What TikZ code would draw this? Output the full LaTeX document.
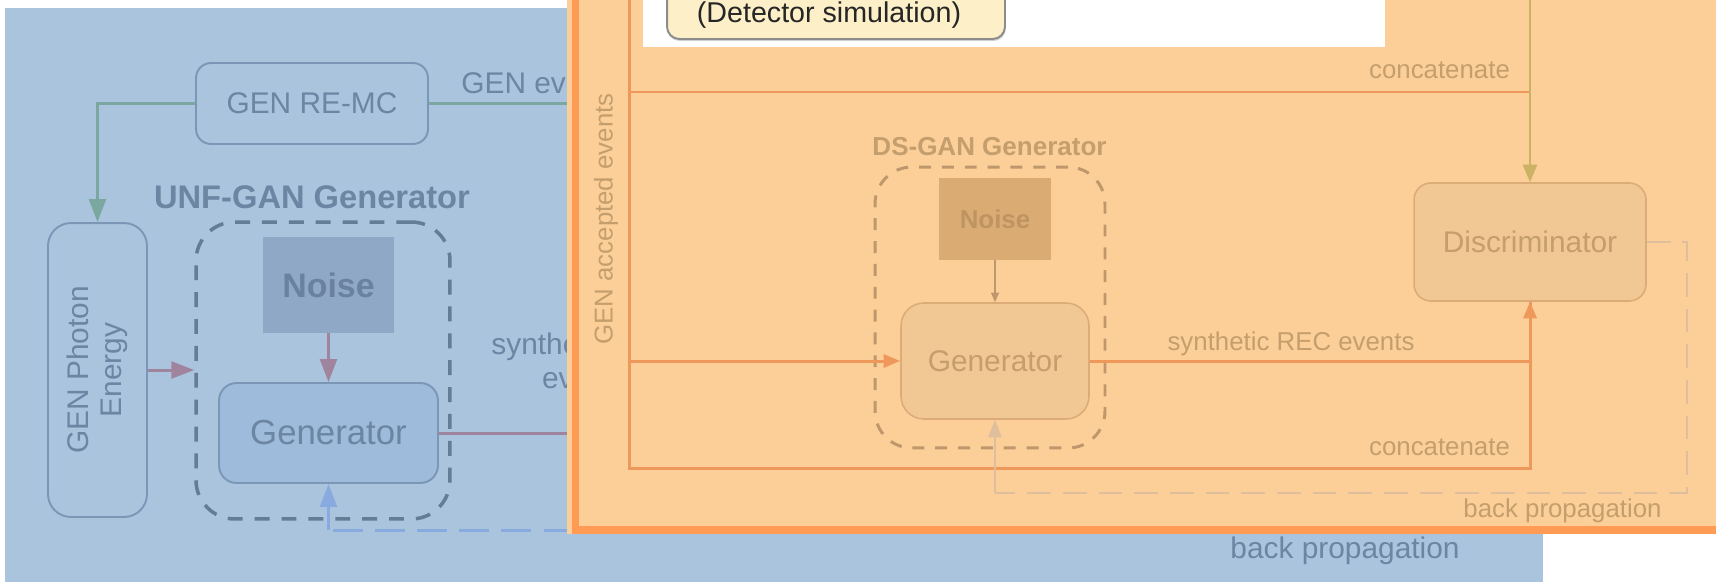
\documentclass[tikz,border=0pt]{standalone}
\usepackage{fontspec}
\setmainfont{Liberation Sans}
\usetikzlibrary{arrows.meta, shadows, calc}

\definecolor{bluebg}{RGB}{170,196,222}
\definecolor{bluetext}{RGB}{108,133,163}
\definecolor{blueedge}{RGB}{124,150,182}
\definecolor{bluegen}{RGB}{158,187,219}
\definecolor{bluenoise}{RGB}{143,168,198}
\definecolor{bluenoisetext}{RGB}{106,130,160}
\definecolor{bluedash}{RGB}{100,124,150}
\definecolor{greenline}{RGB}{122,168,160}
\definecolor{mauve}{RGB}{160,132,158}
\definecolor{bluebp}{RGB}{136,170,222}
\definecolor{orangebg}{RGB}{253,207,152}
\definecolor{orangeedge}{RGB}{255,155,85}
\definecolor{orangeline}{RGB}{238,152,92}
\definecolor{oliveline}{RGB}{204,178,100}
\definecolor{orangetext}{RGB}{196,158,108}
\definecolor{orangeboxfill}{RGB}{241,200,148}
\definecolor{orangeboxedge}{RGB}{220,172,120}
\definecolor{orangenoise}{RGB}{218,172,116}
\definecolor{orangenoisetext}{RGB}{192,148,98}
\definecolor{orangedash}{RGB}{190,152,108}
\definecolor{orangebp}{RGB}{222,190,156}
\definecolor{detfill}{RGB}{253,240,200}
\definecolor{detedge}{RGB}{140,140,140}

\begin{document}
\begin{tikzpicture}[x=0.02cm, y=-0.02cm,
    every node/.style={inner sep=0pt},
    bluetxt/.style={text=bluetext, font=\fontsize{17}{19}\selectfont},
    orangetxt/.style={text=orangetext, font=\fontsize{14.7}{17}\selectfont},
    bluebox/.style={draw=blueedge, line width=1.1pt, rounded corners=8.5pt},
    orangebox/.style={draw=orangeboxedge, fill=orangeboxfill, line width=0.9pt, rounded corners=9.5pt, text=orangetext, font=\fontsize{17}{20}\selectfont},
    bluearrow/.style={-{Triangle[length=13pt,width=9.5pt]}, line width=1.7pt},
    orangearrow/.style={-{Triangle[length=9.5pt,width=7.5pt]}, line width=1.7pt},
    speckle/.style 2 args={path picture={
        \foreach \i in {1,...,900} {
            \fill[#1, opacity=0.45] ($(path picture bounding box.north west)+(rnd*#2)$) rectangle ++(1.6,1.6);
            \fill[white, opacity=0.2] ($(path picture bounding box.north west)+(rnd*#2)$) rectangle ++(1.6,1.6);
        }}}]
    \pgfmathsetseed{11}
    % Page
    \useasboundingbox (0,0) rectangle (1716,582);
    \clip (0,0) rectangle (1716,582);
    \fill[white] (0,0) rectangle (1716,582);
    \fill[bluebg] (5,8) rectangle (1543,582);

    % UNF-GAN part (blue)
    \node[bluebox, bluetxt, minimum width=4.64cm, minimum height=1.62cm] (remc) at (312,103.5) {GEN RE-MC};
    \node[bluebox, bluetxt, rotate=90, align=center, rounded corners=13pt, minimum width=5.88cm, minimum height=1.98cm] (photon) at (97.5,370) {GEN Photon\\Energy};
    \node[draw=bluedash, dash pattern=on 8.5pt off 6.8pt, line width=2pt, rounded corners=22pt, minimum width=5.08cm, minimum height=5.94cm] (unfbox) at (323,370.5) {};
    \node[bluetxt, font=\bfseries\fontsize{18.6}{22}\selectfont, anchor=base] (unflabel) at (312,208) {UNF-GAN Generator};
    \node[fill=bluenoise, speckle={bluedash}{131,96}, minimum width=2.62cm, minimum height=1.92cm, text=bluenoisetext, font=\bfseries\fontsize{19.3}{22}\selectfont] (unfnoise) at (328.5,285) {Noise\hspace{0.36cm}};
    \node[bluebox, fill=bluegen, bluetxt, font=\fontsize{19.8}{23}\selectfont, rounded corners=10pt, minimum width=4.38cm, minimum height=2cm] (unfgen) at (328.5,433) {Generator};

    % Blue connectors
    \coordinate (genev) at (700,103.5);
    \coordinate (synthend) at (700,433);
    \coordinate (bpblue) at (700,530);
    \draw[greenline, line width=1.7pt] (remc.east) -- (genev);
    \draw[greenline, bluearrow] (remc.west) -| (photon.east);
    \draw[mauve, bluearrow] (photon.south) -- (photon.south -| unfbox.west);
    \draw[mauve, bluearrow] (unfnoise) -- (unfgen);
    \draw[mauve, line width=1.7pt] (unfgen.east) -- (synthend);
    \draw[bluebp, dash pattern=on 17pt off 7pt, line width=1.7pt] (bpblue) -- (bpblue -| unfgen.south);
    \draw[bluebp, bluearrow] (bpblue -| unfgen.south) -- (unfgen.south);

    % Blue labels
    \node[bluetxt, anchor=base west] (genevlbl) at (461,93) {GEN events};
    \node[bluetxt, anchor=base, align=center] (synthlbl) at (586,388) {synthetic REC\\events};
    \node[bluetxt, anchor=base] (bpbluelbl) at (1345,558) {back propagation};

    % DS-GAN part (orange)
    \fill[orangebg] (567,-10) rectangle (1730,534);
    \draw[orangeedge, line width=4.3pt] (575.5,-10) -- (575.5,530) -- (1730,530);

    \node[orangebox, minimum width=4.64cm, minimum height=2.36cm] (disc) at (1530,242) {Discriminator};
    \node[draw=orangedash, dash pattern=on 6.8pt off 6.2pt, line width=1.7pt, rounded corners=21pt, minimum width=4.6cm, minimum height=5.62cm] (dsbox) at (990,307.5) {};
    \node[orangetxt, font=\bfseries\fontsize{14.8}{17}\selectfont, anchor=base] (dslabel) at (989.5,155) {DS-GAN Generator};
    \node[fill=orangenoise, speckle={orangedash}{112,82}, minimum width=2.24cm, minimum height=1.64cm, text=orangenoisetext, font=\bfseries\fontsize{14.7}{17}\selectfont] (dsnoise) at (995,219) {Noise\hspace{0.24cm}};
    \node[orangebox, rounded corners=13pt, minimum width=3.76cm, minimum height=2.32cm] (dsgen) at (995,361) {Generator};

    % Orange connectors
    \coordinate (accin) at (629,-10);
    \coordinate (acccorner) at (629,468);
    \coordinate (topjoin) at (629,92);
    \coordinate (simin) at (1530,-10);
    \coordinate (bpcorner) at (1687,493);
    \draw[orangeline, line width=1.7pt] (accin) -- (acccorner) -| (disc.south);
    \draw[orangeline, line width=1.7pt] (topjoin) -- (topjoin -| simin);
    \draw[orangeline, orangearrow] (dsgen.west -| accin) -- (dsgen.west);
    \draw[orangeline, orangearrow] (dsgen.east) -| (disc.south);
    \draw[oliveline, line width=1.4pt, -{Triangle[length=10pt,width=8pt]}] (simin) -- (disc.north);
    \draw[orangedash, line width=0.9pt, -{Triangle[length=5.5pt,width=4.5pt]}] (dsnoise) -- (dsgen);
    \draw[orangebp, dash pattern=on 13.5pt off 6.8pt, line width=1.4pt] (disc.east) -| (bpcorner) -- (bpcorner -| dsgen.south);
    \draw[orangebp, line width=1.4pt, -{Triangle[length=10pt,width=7.5pt]}] (bpcorner -| dsgen.south) -- (dsgen.south);

    % Orange labels
    \node[orangetxt, rotate=90] (acclbl) at (606,219) {GEN accepted events};
    \node[orangetxt, anchor=base] (concattop) at (1439.5,78) {concatenate};
    \node[orangetxt, anchor=base] (concatbot) at (1439.5,455) {concatenate};
    \node[orangetxt, anchor=base] (synthrec) at (1291,350) {synthetic REC events};
    \node[orangetxt, anchor=base] (bporange) at (1562.5,517) {back propagation};

    % Detector simulation box (white strip)
    \fill[white] (643,-10) rectangle (1385,47);
    \node[draw=detedge, fill=detfill, line width=1.1pt, rounded corners=7pt, minimum width=6.76cm, minimum height=1.6cm, drop shadow={shadow xshift=0.4pt, shadow yshift=-1.2pt, opacity=0.35}] (detector) at (836,-1) {};
    \node[text=black!85, font=\fontsize{16.3}{20}\selectfont, anchor=base] (dettxt) at (829,22) {(Detector simulation)};
\end{tikzpicture}
\end{document}
